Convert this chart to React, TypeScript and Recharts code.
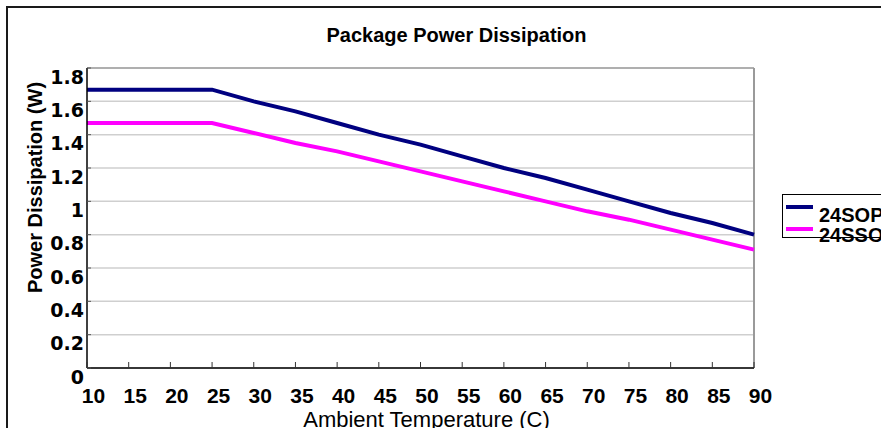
import React from 'react';
import { LineChart, Line, XAxis, YAxis, CartesianGrid, ReferenceLine, Legend } from 'recharts';

const temperatures = [10, 15, 20, 25, 30, 35, 40, 45, 50, 55, 60, 65, 70, 75, 80, 85, 90];
const sop24 = [1.67, 1.67, 1.67, 1.67, 1.60, 1.54, 1.47, 1.40, 1.34, 1.27, 1.20, 1.14, 1.07, 1.00, 0.93, 0.87, 0.80];
const ssop24 = [1.47, 1.47, 1.47, 1.47, 1.41, 1.35, 1.30, 1.24, 1.18, 1.12, 1.06, 1.00, 0.94, 0.89, 0.83, 0.77, 0.71];
const yTicks = [0, 0.2, 0.4, 0.6, 0.8, 1, 1.2, 1.4, 1.6, 1.8];
const seriesNames = ['24SOP', '24SSOP'];

const data = temperatures.map((t, i) => ({ t, sop: sop24[i], ssop: ssop24[i] }));

const FONT = '"Liberation Sans", Arial, sans-serif';

const XTick = (props: any) => {
  const { x, y, payload } = props;
  return (
    <g>
      <line x1={x} x2={x} y1={y - 6} y2={y} stroke="#333" strokeWidth={1} />
      <text x={x + 6.5} y={y + 35} textAnchor="middle" fontFamily={FONT} fontWeight={700} fontSize={21} fill="#000">
        {payload.value}
      </text>
    </g>
  );
};

const YTick = (props: any) => {
  const { x, y, payload } = props;
  return (
    <g>
      <line x1={x} x2={x + 4} y1={y} y2={y} stroke="#555" strokeWidth={1} />
      <text x={x - 3} y={y + 15.5} textAnchor="end" fontFamily='"DejaVu Sans", sans-serif' fontWeight={700} fontSize={19} fill="#000">
        {String(payload.value)}
      </text>
    </g>
  );
};

const renderLegend = (props: any) => {
  const { payload } = props;
  return (
    <div
      style={{
        position: 'relative',
        width: 120,
        height: 44,
        border: '1px solid #000',
        boxSizing: 'border-box',
        background: '#fff',
      }}
    >
      {(payload || []).map((entry: any, i: number) => (
        <React.Fragment key={entry.value}>
          <div
            style={{
              position: 'absolute',
              left: 3,
              top: 10 + i * 22,
              width: 27,
              height: 4,
              background: entry.color,
            }}
          />
          <div
            style={{
              position: 'absolute',
              left: 36,
              top: 10 + i * 20,
              fontFamily: FONT,
              fontWeight: 700,
              fontSize: 20,
              lineHeight: '20px',
              whiteSpace: 'nowrap',
              color: '#000',
            }}
          >
            {entry.value}
          </div>
        </React.Fragment>
      ))}
    </div>
  );
};

export default function App() {
  return (
    <div
      style={{
        position: 'absolute',
        left: 0,
        top: 0,
        width: 881,
        height: 428,
        overflow: 'hidden',
        background: '#fff',
      }}
    >
      <div
        style={{
          position: 'absolute',
          left: 6,
          top: 6,
          width: 900,
          height: 450,
          borderLeft: '2px solid #1a1a1a',
          borderTop: '2px solid #1a1a1a',
          boxSizing: 'border-box',
        }}
      />
      <div style={{ position: 'absolute', left: 0, top: 0 }}>
        <LineChart
          width={881}
          height={428}
          data={data}
          margin={{ top: 68, right: 127, bottom: 30, left: 27 }}
        >
          <CartesianGrid horizontal vertical={false} stroke="#cfcfcf" strokeWidth={1.5} />
          <XAxis
            dataKey="t"
            type="number"
            domain={[10, 90]}
            ticks={temperatures}
            interval={0}
            height={30}
            tickSize={0}
            tickMargin={0}
            tickLine={false}
            axisLine={{ stroke: '#000', strokeWidth: 1.5 }}
            tick={<XTick />}
          />
          <YAxis
            type="number"
            domain={[0, 1.8]}
            ticks={yTicks}
            interval={0}
            width={60}
            tickSize={0}
            tickMargin={0}
            tickLine={false}
            axisLine={{ stroke: '#000', strokeWidth: 1.5 }}
            tick={<YTick />}
          />
          <ReferenceLine y={1.8} stroke="#a0a0a0" strokeWidth={1.5} />
          <ReferenceLine x={90} stroke="#9a9a9a" strokeWidth={2} />
          <Line
            type="linear"
            dataKey="sop"
            name={seriesNames[0]}
            stroke="#000080"
            strokeWidth={4}
            dot={false}
            isAnimationActive={false}
          />
          <Line
            type="linear"
            dataKey="ssop"
            name={seriesNames[1]}
            stroke="#ff00ff"
            strokeWidth={4}
            dot={false}
            isAnimationActive={false}
          />
          <Legend
            layout="horizontal"
            verticalAlign="middle"
            align="center"
            content={renderLegend}
            wrapperStyle={{ left: 782, top: 194, width: 120, height: 44 }}
          />
          <text x={456.5} y={41.5} textAnchor="middle" fontFamily={FONT} fontWeight={700} fontSize={20} fill="#000">
            Package Power Dissipation
          </text>
          <text
            x={42}
            y={187.5}
            transform="rotate(-90 42 187.5)"
            textAnchor="middle"
            fontFamily={FONT}
            fontWeight={700}
            fontSize={20}
            fill="#000"
          >
            Power Dissipation (W)
          </text>
          <text x={426.5} y={427} textAnchor="middle" fontFamily={FONT} fontSize={22} fill="#000">
            Ambient Temperature (C)
          </text>
        </LineChart>
      </div>
    </div>
  );
}
